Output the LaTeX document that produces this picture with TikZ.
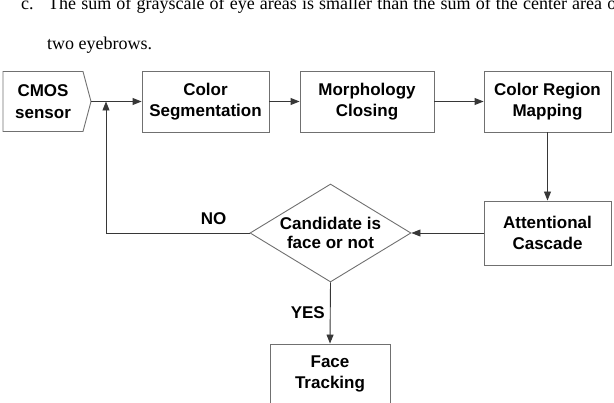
\documentclass[tikz,border=0pt]{standalone}
\usepackage{fontspec}
\setmainfont{Liberation Sans}
\newfontfamily\thesisfont{Liberation Serif}
\usetikzlibrary{arrows.meta,shapes.geometric,shapes.symbols}
\definecolor{edgegray}{RGB}{112,112,112}
\definecolor{linegray}{RGB}{55,55,55}

\tikzset{
  stage/.style={draw=edgegray, line width=0.9pt, minimum width=127pt,
    minimum height=61pt, inner sep=0pt, align=center,
    font=\bfseries\fontsize{17}{21.5}\selectfont},
  sensor/.style={stage, signal, signal to=east, signal pointer angle=150,
    minimum width=88pt, minimum height=60pt},
  decision/.style={diamond, draw=edgegray, line width=0.9pt, aspect=1.64,
    minimum width=161pt, minimum height=98pt, inner sep=0pt, align=center,
    font=\bfseries\fontsize{17}{19.5}\selectfont},
  flow/.style={draw=linegray, line width=0.9pt, -{Triangle[length=9pt,width=7pt]}},
  answer/.style={font=\bfseries\fontsize{17}{20}\selectfont, inner sep=0pt},
  bodytext/.style={anchor=base west, inner sep=0pt,
    font=\thesisfont\fontsize{18}{22}\selectfont}
}

\begin{document}
\begin{tikzpicture}[x=1pt,y=-1pt]
\useasboundingbox (0,0) rectangle (614,403);
\clip (0,0) rectangle (614,403);

% end of the text above the figure
\node[bodytext] (itemc) at (21,9.5) {c.};
\node[bodytext] (lineone) at (48,9.5)
  {\makebox[574pt][s]{The sum of grayscale of eye areas is smaller than the sum of the center area of}};
\node[bodytext] (linetwo) at (47,49.5) {two eyebrows.};

% stages
\node[sensor] (cmos) at (43,101.5) {CMOS\\sensor};
\node[stage] (seg) at (205.5,101.5) {Color\\Segmentation};
\node[stage, minimum width=134pt] (morph) at (367,101.5) {Morphology\\Closing};
\node[stage] (crm) at (547.5,101.5) {Color Region\\Mapping};
\node[stage, minimum height=64pt] (atten) at (547.5,233) {Attentional\\Cascade};
\node[decision] (dec) at (330.5,233) {Candidate is\\face or not};
\node[stage, minimum width=120pt, minimum height=60pt] (face) at (330,374) {Face\\Tracking};
\coordinate (merge) at (106,101.5);

% connectors
\draw[flow] (cmos.east) -- (seg.west);
\draw[flow] (seg) -- (morph);
\draw[flow] (morph) -- (crm);
\draw[flow] (crm) -- (atten);
\draw[flow] (atten) -- (dec);
\draw[flow] (dec.west) -| (merge)
  node[answer, pos=0.125, above=8pt] (no) {NO};
\draw[flow] (dec.south) -- (face.north)
  node[answer, midway, left=5pt] (yes) {YES};

\end{tikzpicture}
\end{document}
